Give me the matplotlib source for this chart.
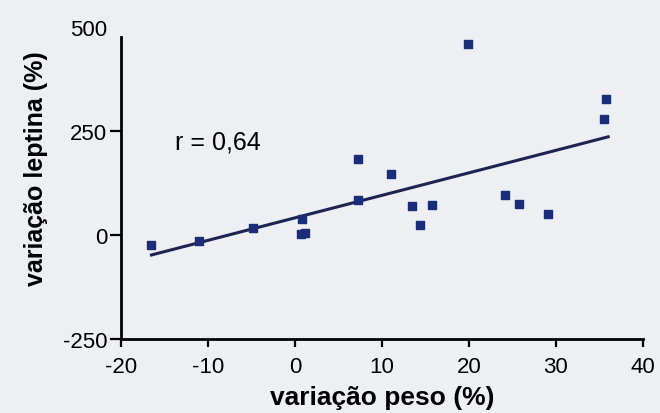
import numpy as np
import matplotlib.pyplot as plt

# variação peso (%) vs variação leptina (%)
peso = [-16.6, -11.0, -4.8, 0.8, 0.7, 1.1, 7.2, 7.2, 11.0, 13.4, 14.4, 15.7, 19.9, 24.1, 25.7, 29.1, 35.5, 35.8]
leptina = [-25, -15, 18, 39, 3, 5, 85, 183, 147, 70, 23, 71, 459, 95, 74, 50, 280, 326]

# regression line endpoints
fit_x = [-16.5, 36.0]
fit_y = [-48, 236]

x_ticks = [-20, -10, 0, 10, 20, 30, 40]
y_ticks = [-250, 0, 250, 500]

plt.rcParams['font.family'] = ['Liberation Sans', 'DejaVu Sans']
plt.rcParams['axes.unicode_minus'] = False

bg = "#edeff3"
fig = plt.figure(figsize=(6.6, 4.14), dpi=100, facecolor=bg)
ax = fig.add_axes([0.1833, 0.1787, 0.7909, 0.7537], facecolor=bg)

ax.plot(fit_x, fit_y, color="#1b2452", linewidth=2.2)
ax.scatter(peso, leptina, marker="s", s=32, color="#1a2d78", zorder=3)

ax.set_xlim(-20, 40)
ax.set_ylim(-250, 500)
ax.set_xticks(x_ticks)
ax.set_yticks(y_ticks)
ax.tick_params(axis="both", direction="out", width=1.6, labelsize=16, colors="black")
ax.tick_params(axis="x", length=6, pad=6)
ax.tick_params(axis="y", length=8, pad=2)
ax.yaxis.get_major_ticks()[-1].tick1line.set_visible(False)

for side in ["top", "right"]:
    ax.spines[side].set_visible(False)
for side in ["left", "bottom"]:
    ax.spines[side].set_linewidth(2)
ax.spines["left"].set_bounds(-250, 475)

ax.text(-13.8, 225, "r = 0,64", fontsize=18, va="center")

ax.set_xlabel("variação peso (%)", fontsize=19, fontweight="bold", labelpad=6)
ax.set_ylabel("variação leptina (%)", fontsize=18, fontweight="bold")
ax.yaxis.set_label_coords(-0.14, 0.55)

plt.savefig("out.png", dpi=100, facecolor=bg)
